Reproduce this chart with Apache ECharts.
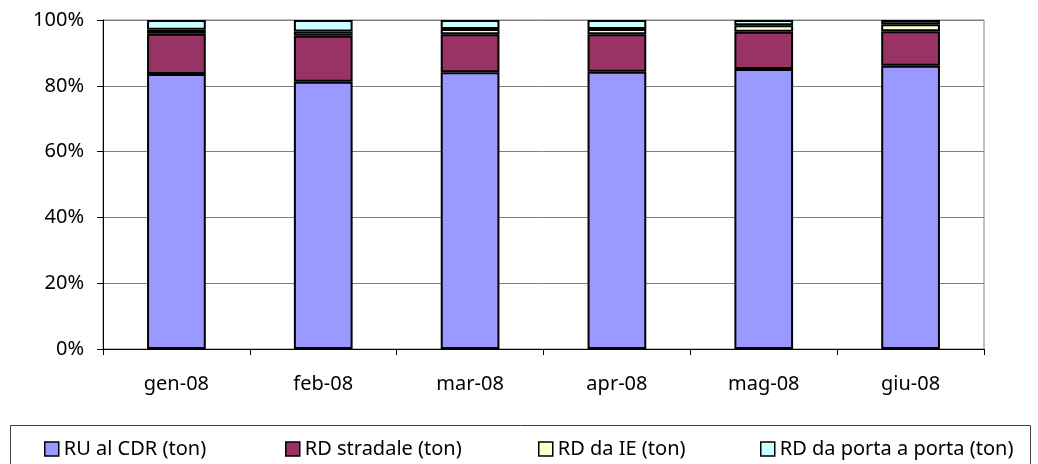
<!DOCTYPE html>
<html><head><meta charset="utf-8">
<script src="https://cdn.jsdelivr.net/npm/echarts@6/dist/echarts.min.js"></script>
<style>html,body{margin:0;padding:0;background:#fff}#c{width:1038px;height:464px}</style>
</head><body><div id="c"></div>
<script>
const categories = ['gen-08','feb-08','mar-08','apr-08','mag-08','giu-08'];
const seriesNames = ['RU al CDR (ton)','RD stradale (ton)','RD da IE (ton)','RD da porta a porta (ton)'];
const ruCdr = [83.6, 81.2, 84.1, 84.3, 85.1, 86.1];
const rdStradale = [12.2, 14.0, 11.6, 11.4, 11.3, 10.5];
const rdIE = [1.2, 1.3, 1.6, 1.6, 2.0, 2.1];
const rdPorta = [3.0, 3.5, 2.7, 2.7, 1.6, 1.3];
const yTicks = [0, 20, 40, 60, 80, 100];

const colors = ['#9999FF','#993366','#FFFFCC','#CCFFFF'];
const values = [ruCdr, rdStradale, rdIE, rdPorta];
const font = 'Noto Sans';
const legendLefts = [44, 285, 538, 760];

const chart = echarts.init(document.getElementById('c'));
chart.setOption({
  animation: false,
  textStyle: {fontFamily: font},
  grid: {left: 103, right: 54, top: 20, bottom: 115, show: true, borderColor: '#808080', borderWidth: 1},
  xAxis: {
    type: 'category', data: categories,
    axisLine: {lineStyle: {color: '#000', width: 1}},
    axisTick: {show: true, length: 6, lineStyle: {color: '#000'}},
    axisLabel: {color: '#000', fontSize: 20, margin: 25, fontFamily: font}
  },
  yAxis: {
    type: 'value', min: 0, max: 100, interval: 20,
    axisLine: {show: true, lineStyle: {color: '#000', width: 1}},
    axisTick: {show: true, length: 6, lineStyle: {color: '#000'}},
    axisLabel: {color: '#000', fontSize: 20, margin: 19, fontFamily: font,
      formatter: v => yTicks.includes(v) ? v + '%' : ''},
    splitLine: {show: true, lineStyle: {color: '#808080', width: 1}}
  },
  legend: seriesNames.map((n, i) => ({
    data: [n], left: legendLefts[i], top: 439, itemWidth: 14, itemHeight: 14, itemGap: 5,
    icon: 'rect', padding: 0,
    textStyle: {color: '#000', fontSize: 20, fontFamily: font, padding: [0,0,0,0]},
    itemStyle: {borderColor: '#000', borderWidth: 1.5}
  })),
  graphic: [{type: 'rect', shape: {x: 10.5, y: 425.5, width: 1020, height: 60},
    style: {fill: 'none', stroke: '#404040', lineWidth: 1}, silent: true}],
  series: seriesNames.map((n, i) => ({
    name: n, type: 'bar', stack: 'total', data: values[i], barWidth: '40%',
    itemStyle: {color: colors[i], borderColor: '#000', borderWidth: 2}
  }))
});
</script></body></html>
